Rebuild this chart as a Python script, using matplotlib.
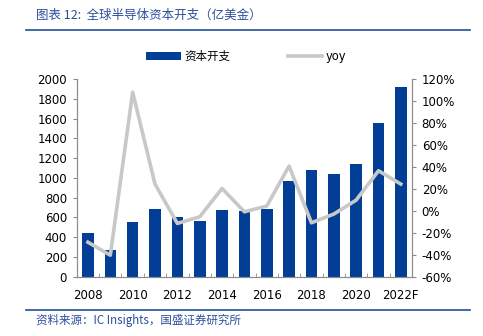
import matplotlib.pyplot as plt
from matplotlib.ticker import FuncFormatter

plt.rcParams['font.family'] = ['DejaVu Sans', 'Noto Sans CJK SC']

years = ['2008', '2009', '2010', '2011', '2012', '2013', '2014', '2015',
         '2016', '2017', '2018', '2019', '2020', '2021', '2022F']
capex = [445, 270, 553, 685, 605, 567, 673, 665, 690, 970, 1075, 1040, 1143, 1555, 1920]
yoy = [-28.5, -40.3, 107.9, 24.4, -11.4, -5.4, 20.4, -0.8, 4.4, 40.8, -10.8, -2.9, 9.8, 36.5, 24.4]

bar_color = '#023E95'
line_color = '#C8C8C8'
text_blue = '#2D4E9C'
axis_gray = '#8C8C8C'

fig = plt.figure(figsize=(4.83, 3.36), dpi=100)
ax = fig.add_axes([0.159, 0.176, 0.694, 0.589])
ax2 = ax.twinx()

x = list(range(len(years)))
bars = ax.bar(x, capex, width=0.52, color=bar_color, label='资本开支', zorder=2)
line, = ax2.plot(x, yoy, color=line_color, lw=2.6, label='yoy', zorder=3)
ax2.set_zorder(ax.get_zorder() + 1)
ax2.patch.set_visible(False)

ax.set_xlim(-0.5, len(years) - 0.5)
ax.set_ylim(0, 2000)
ax.set_yticks(range(0, 2001, 200))
ax2.set_ylim(-60, 120)
ax2.set_yticks(range(-60, 121, 20))
ax2.yaxis.set_major_formatter(FuncFormatter(lambda v, p: f'{v:.0f}%'))

ax.set_xticks(x[::2])
ax.set_xticklabels(years[::2])
ax.set_xticks([i + 0.5 for i in x[:-1]], minor=True)
ax.tick_params(axis='x', which='major', length=0, pad=9)
ax.tick_params(axis='x', which='minor', direction='in', length=3, color=axis_gray)
ax.tick_params(axis='y', length=3, color=axis_gray, pad=4)
ax2.tick_params(axis='y', length=3, color=axis_gray, pad=4)
for a in (ax, ax2):
    a.tick_params(labelsize=8.5, labelcolor='black')
    for s in a.spines.values():
        s.set_color(axis_gray)
        s.set_linewidth(0.8)
    a.spines['top'].set_visible(False)

fig.legend([bars, line], ['资本开支', 'yoy'], ncol=2, loc='center',
           bbox_to_anchor=(0.51, 0.832), frameon=False, fontsize=8.3,
           handlelength=3.0, handletextpad=0.3, columnspacing=5.0)

fig.text(0.075, 0.953, '图表 12:  全球半导体资本开支（亿美金）', color=text_blue,
         fontsize=9, style='italic', va='center',
         family=['Noto Sans CJK SC', 'DejaVu Sans'])
fig.add_artist(plt.Line2D([0.054, 0.973], [0.91, 0.91], color='#1F4E9C', lw=1.2,
                          transform=fig.transFigure))
fig.add_artist(plt.Line2D([0.054, 0.973], [0.077, 0.077], color='#1F4E9C', lw=1.2,
                          transform=fig.transFigure))
fig.text(0.075, 0.045, '资料来源：IC Insights，国盛证券研究所', color=text_blue,
         fontsize=8.3, style='italic', va='center',
         family=['Noto Sans CJK SC', 'DejaVu Sans'])

fig.savefig('out.png', dpi=100)
